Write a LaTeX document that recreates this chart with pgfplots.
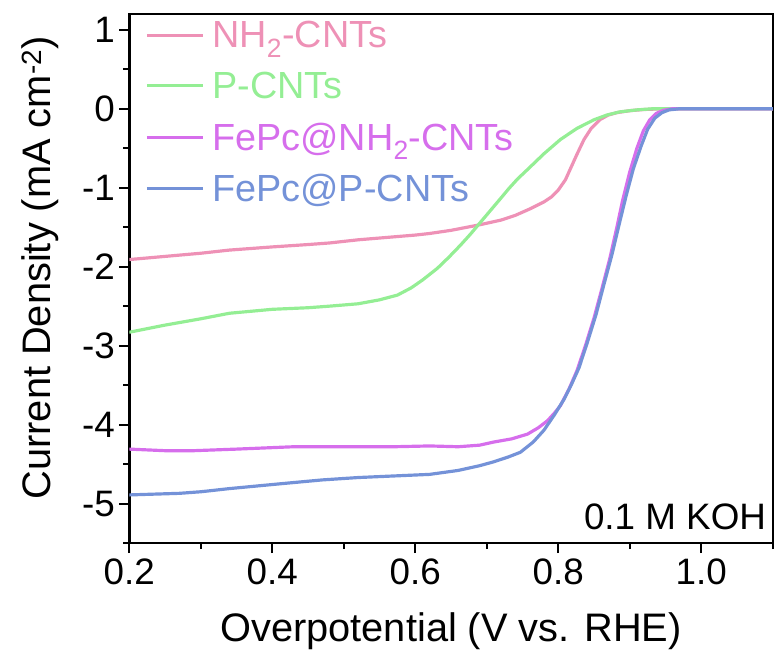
\documentclass[border=0pt]{standalone}
\usepackage{pgfplots}
\pgfplotsset{compat=1.18}
\usepackage{fontspec}
\setmainfont{Liberation Sans}
\definecolor{cpink}{RGB}{238,145,182}
\definecolor{cgreen}{RGB}{148,238,148}
\definecolor{cmag}{RGB}{214,110,236}
\definecolor{cblue}{RGB}{116,146,216}
\begin{document}
\begin{tikzpicture}
\begin{axis}[
  scale only axis,
  width=646.9pt, height=532pt,
  xmin=0.2, xmax=1.1, ymin=-5.5, ymax=1.2,
  xtick={0.2,0.4,0.6,0.8,1.0},
  xticklabels={0.2,0.4,0.6,0.8,1.0},
  ytick={-5,-4,-3,-2,-1,0,1},
  minor xtick={0.3,0.5,0.7,0.9,1.1},
  minor ytick={-5.5,-4.5,-3.5,-2.5,-1.5,-0.5,0.5},
  tick align=outside,
  major tick length=10pt, minor tick length=6pt,
  every tick/.style={black, line width=2pt},
  axis line style={line width=2.5pt},
  xtick pos=bottom, ytick pos=left,
  /pgf/number format/assume math mode=true,
  ticklabel style={font=\fontsize{37}{42}\selectfont},
  xticklabel style={yshift=-2pt},
  yticklabel style={xshift=-1pt},
  xlabel={Overpotential (V vs. RHE)},
  ylabel={Current Density (mA cm\textsuperscript{-2})},
  label style={font=\fontsize{40}{46}\selectfont},
  xlabel style={at={(axis description cs:0.5,0)}, anchor=center, yshift=-89pt},
  ylabel style={at={([xshift=-90pt]axis description cs:0,0.52)}, anchor=center},
  legend style={at={(0,1)}, anchor=north west, xshift=16pt, yshift=-5pt,
    draw=none, fill=none, font=\fontsize{38}{44}\selectfont,
    row sep=19pt, inner sep=0pt,
    /tikz/every even column/.append style={column sep=0pt}},
  legend cell align=left,
  legend image code/.code={\draw[#1, line width=3pt] (0pt,0pt) -- (56pt,0pt);},
  every axis plot/.append style={line width=3.2pt, line join=round},
]
\addplot[cpink] coordinates {
(0.20,-1.91) (0.25,-1.87) (0.30,-1.83) (0.34,-1.79) (0.40,-1.75) (0.45,-1.72) (0.48,-1.70) (0.52,-1.66) (0.56,-1.63) (0.60,-1.60) (0.62,-1.58) (0.65,-1.54) (0.69,-1.47) (0.72,-1.41) (0.74,-1.35) (0.76,-1.27) (0.78,-1.18) (0.79,-1.12) (0.80,-1.03) (0.81,-0.90) (0.816,-0.78) (0.826,-0.58) (0.836,-0.39) (0.846,-0.25) (0.858,-0.14) (0.870,-0.08) (0.882,-0.05) (0.90,-0.025) (0.92,-0.01) (0.95,0) (1.1,0)};
\addlegendentry{\textcolor{cpink}{\,NH\textsubscript{2}-CNTs}}
\addplot[cgreen] coordinates {
(0.20,-2.83) (0.25,-2.74) (0.30,-2.66) (0.34,-2.59) (0.40,-2.54) (0.45,-2.52) (0.48,-2.50) (0.52,-2.47) (0.55,-2.42) (0.575,-2.36) (0.594,-2.27) (0.61,-2.17) (0.631,-2.02) (0.647,-1.88) (0.663,-1.73) (0.677,-1.59) (0.691,-1.44) (0.705,-1.29) (0.719,-1.14) (0.731,-1.01) (0.743,-0.89) (0.757,-0.77) (0.78,-0.57) (0.803,-0.39) (0.826,-0.25) (0.85,-0.14) (0.868,-0.08) (0.886,-0.04) (0.91,-0.015) (0.933,0) (1.1,0)};
\addlegendentry{\textcolor{cgreen}{\,P-CNTs}}
\addplot[cmag] coordinates {
(0.20,-4.31) (0.25,-4.33) (0.29,-4.33) (0.35,-4.31) (0.43,-4.28) (0.50,-4.28) (0.57,-4.28) (0.62,-4.27) (0.66,-4.28) (0.69,-4.26) (0.71,-4.22) (0.735,-4.18) (0.757,-4.12) (0.772,-4.04) (0.785,-3.95) (0.795,-3.85) (0.803,-3.76) (0.815,-3.55) (0.826,-3.32) (0.838,-3.0) (0.85,-2.65) (0.861,-2.28) (0.872,-1.9) (0.882,-1.5) (0.89,-1.16) (0.90,-0.8) (0.91,-0.50) (0.919,-0.28) (0.928,-0.14) (0.937,-0.06) (0.947,-0.02) (0.96,0) (1.1,0)};
\addlegendentry{\textcolor{cmag}{\,FePc@NH\textsubscript{2}-CNTs}}
\addplot[cblue] coordinates {
(0.20,-4.89) (0.27,-4.87) (0.30,-4.85) (0.34,-4.81) (0.41,-4.75) (0.47,-4.70) (0.52,-4.67) (0.57,-4.65) (0.62,-4.63) (0.66,-4.58) (0.69,-4.52) (0.71,-4.47) (0.73,-4.41) (0.747,-4.35) (0.765,-4.22) (0.78,-4.07) (0.795,-3.87) (0.808,-3.68) (0.818,-3.50) (0.829,-3.28) (0.841,-2.95) (0.853,-2.60) (0.864,-2.22) (0.875,-1.85) (0.885,-1.47) (0.895,-1.10) (0.905,-0.76) (0.916,-0.47) (0.925,-0.26) (0.935,-0.12) (0.945,-0.05) (0.955,-0.015) (0.97,0) (1.1,0)};
\addlegendentry{\textcolor{cblue}{\,FePc@P-CNTs}}
\node[anchor=east, font=\fontsize{37}{42}\selectfont] at (rel axis cs:0.995,0.05) {0.1 M KOH};
\end{axis}
\path[use as bounding box] (-130pt,-115pt) rectangle (644pt,546pt);
\end{tikzpicture}
\end{document}
